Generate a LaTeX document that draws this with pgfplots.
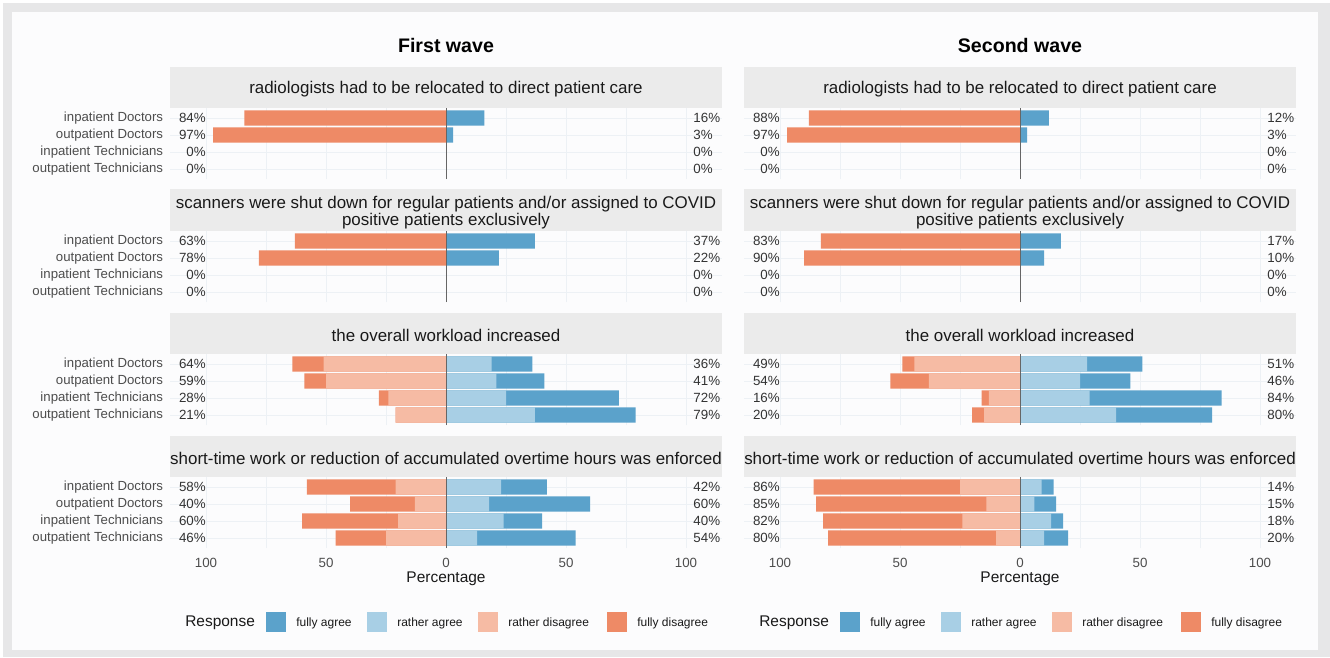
\documentclass[border=0pt]{standalone}
\usepackage{fontspec}
\setmainfont{Liberation Sans}
\usepackage{pgfplots}
\pgfplotsset{compat=1.18}
\usepackage{pgfplotstable}

\definecolor{fa}{HTML}{5BA2CB}
\definecolor{ra}{HTML}{A8CFE5}
\definecolor{rd}{HTML}{F6BBA4}
\definecolor{fd}{HTML}{EE8A66}
\definecolor{stripc}{HTML}{EBEBEB}
\definecolor{framec}{HTML}{E7E7E8}
\definecolor{pane}{HTML}{FCFCFD}
\definecolor{rowlab}{HTML}{4D4D4D}
\definecolor{pctc}{HTML}{333333}
\definecolor{gridc}{HTML}{EDF1F5}
\definecolor{zeroc}{HTML}{666666}

% columns: y rd (rather disagree) fd (fully disagree) ra (rather agree) fa (fully agree)
% y: 4 = inpatient Doctors, 3 = outpatient Doctors, 2 = inpatient Technicians, 1 = outpatient Technicians
\pgfplotstableread{
y rd fd ra fa
4 0 84 0 16
3 0 97 0 3
2 0 0 0 0
1 0 0 0 0
}\tAa
\pgfplotstableread{
y rd fd ra fa
4 0 63 0 37
3 0 78 0 22
2 0 0 0 0
1 0 0 0 0
}\tAb
\pgfplotstableread{
y rd fd ra fa
4 51 13 19 17
3 50 9 21 20
2 24 4 25 47
1 21 0 37 42
}\tAc
\pgfplotstableread{
y rd fd ra fa
4 21 37 23 19
3 13 27 18 42
2 20 40 24 16
1 25 21 13 41
}\tAd
\pgfplotstableread{
y rd fd ra fa
4 0 88 0 12
3 0 97 0 3
2 0 0 0 0
1 0 0 0 0
}\tBa
\pgfplotstableread{
y rd fd ra fa
4 0 83 0 17
3 0 90 0 10
2 0 0 0 0
1 0 0 0 0
}\tBb
\pgfplotstableread{
y rd fd ra fa
4 44 5 28 23
3 38 16 25 21
2 13 3 29 55
1 15 5 40 40
}\tBc
\pgfplotstableread{
y rd fd ra fa
4 25 61 9 5
3 14 71 6 9
2 24 58 13 5
1 10 70 10 10
}\tBd

\tikzset{pct/.style={font=\fontsize{10}{12}\selectfont, text=pctc, inner sep=0pt}}

\pgfplotsset{
  facet/.style={
    scale only axis, width=414pt, height=53.55pt,
    anchor=south west, clip=false,
    xmin=-115, xmax=115, ymin=0.4, ymax=4.6,
    xbar, bar width=0.9, bar shift=0pt,
    axis line style={draw=none}, tick style={draw=none},
    ytick={1,2,3,4},
    yticklabels={},
    yticklabel style={font=\fontsize{9.9}{11}\selectfont, text=rowlab, inner sep=0pt, xshift=-0.75pt},
    xtick={-100,-50,0,50,100},
    minor xtick={-75,-25,25,75},
    xticklabels={},
    xmajorgrids, xminorgrids, ymajorgrids,
    major grid style={gridc, line width=0.5pt},
    minor grid style={gridc, line width=0.4pt},
    /pgf/number format/assume math mode=true,
  },
  rows/.style={yticklabels={outpatient Technicians, inpatient Technicians, outpatient Doctors, inpatient Doctors}},
  bottom/.style={xticklabels={100,50,0,50,100},
    xticklabel style={font=\fontsize{10}{12}\selectfont, text=rowlab, inner sep=0pt, yshift=-7.5pt}},
}

\newcommand{\bars}[1]{%
  \addplot[fill=fa, draw=none] table[x expr=\thisrow{ra}+\thisrow{fa}, y=y] {#1};
  \addplot[fill=ra, draw=none] table[x=ra, y=y] {#1};
  \addplot[fill=fd, draw=none] table[x expr=-\thisrow{rd}-\thisrow{fd}, y=y] {#1};
  \addplot[fill=rd, draw=none] table[x expr=-\thisrow{rd}, y=y] {#1};
  \draw[zeroc, line width=0.75pt] (axis cs:0,0.4) -- (axis cs:0,4.6);
}
\newcommand{\pl}[3]{%
  \node[pct, anchor=east] at (axis cs:-100,#1) {#2\%};
  \node[pct, anchor=west] at (axis cs:103,#1) {#3\%};
}

\begin{document}
\begin{tikzpicture}
\useasboundingbox (0,0) rectangle (997.5pt,492.75pt);
\begin{scope}[x=0.75pt, y=-0.75pt, yshift=492.75pt]
  \fill[white] (0,0) rectangle (1330,657);
  \fill[framec] (3,3) rectangle (1330,657);
  \fill[pane] (12,12) rectangle (1318,650);
  % strips
  \foreach \xa in {170,744}{
    \fill[stripc] (\xa,67) rectangle ++(552,40.8);
    \fill[stripc] (\xa,189) rectangle ++(552,41.8);
    \fill[stripc] (\xa,313) rectangle ++(552,40.8);
    \fill[stripc] (\xa,436) rectangle ++(552,40.8);
  }
  \foreach \xc in {446,1020}{
    \node[font=\fontsize{12.7}{12.75}\selectfont, text=black!90, inner sep=0pt] at (\xc,89.4) {radiologists had to be relocated to direct patient care};
    \node[font=\fontsize{12.7}{12.75}\selectfont, text=black!90, inner sep=0pt, align=center] at (\xc,212.5) {scanners were shut down for regular patients and/or assigned to COVID\\positive patients exclusively};
    \node[font=\fontsize{12.7}{12.75}\selectfont, text=black!90, inner sep=0pt] at (\xc,335.4) {the overall workload increased};
    \node[font=\fontsize{12.7}{12.75}\selectfont, text=black!90, inner sep=0pt] at (\xc,458.4) {short-time work or reduction of accumulated overtime hours was enforced};
    \node[font=\fontsize{11.6}{13}\selectfont, text=black!90, inner sep=0pt] at (\xc,579) {Percentage};
  }
  \node[font=\bfseries\fontsize{14.7}{16}\selectfont, inner sep=0pt] at (446,45.5) {First wave};
  \node[font=\bfseries\fontsize{14.7}{16}\selectfont, inner sep=0pt] at (1020,45.5) {Second wave};
  % legends
  \foreach \dx in {0,574}{
    \begin{scope}[xshift=\dx*0.75pt]
      \node[font=\fontsize{11.6}{13}\selectfont, text=black!90, anchor=west, inner sep=0pt] at (185,623) {Response};
      \fill[fa] (266,612) rectangle (286,632);
      \fill[ra] (367,612) rectangle (387,632);
      \fill[rd] (478,612) rectangle (498,632);
      \fill[fd] (607,612) rectangle (627,632);
      \node[font=\fontsize{9}{10}\selectfont, text=black!90, anchor=west, inner sep=0pt] at (296,623) {fully agree};
      \node[font=\fontsize{9}{10}\selectfont, text=black!90, anchor=west, inner sep=0pt] at (397,623) {rather agree};
      \node[font=\fontsize{9}{10}\selectfont, text=black!90, anchor=west, inner sep=0pt] at (508,623) {rather disagree};
      \node[font=\fontsize{9}{10}\selectfont, text=black!90, anchor=west, inner sep=0pt] at (637,623) {fully disagree};
    \end{scope}
  }
\end{scope}

% ---------- First wave ----------
\begin{axis}[facet, rows, at={(127.5pt,358.35pt)}]
\bars{\tAa}
\pl{4}{84}{16}\pl{3}{97}{3}\pl{2}{0}{0}\pl{1}{0}{0}
\end{axis}
\begin{axis}[facet, rows, at={(127.5pt,266.1pt)}]
\bars{\tAb}
\pl{4}{63}{37}\pl{3}{78}{22}\pl{2}{0}{0}\pl{1}{0}{0}
\end{axis}
\begin{axis}[facet, rows, at={(127.5pt,173.85pt)}]
\bars{\tAc}
\pl{4}{64}{36}\pl{3}{59}{41}\pl{2}{28}{72}\pl{1}{21}{79}
\end{axis}
\begin{axis}[facet, rows, bottom, at={(127.5pt,81.6pt)}]
\bars{\tAd}
\pl{4}{58}{42}\pl{3}{40}{60}\pl{2}{60}{40}\pl{1}{46}{54}
\end{axis}

% ---------- Second wave ----------
\begin{axis}[facet, at={(558pt,358.35pt)}]
\bars{\tBa}
\pl{4}{88}{12}\pl{3}{97}{3}\pl{2}{0}{0}\pl{1}{0}{0}
\end{axis}
\begin{axis}[facet, at={(558pt,266.1pt)}]
\bars{\tBb}
\pl{4}{83}{17}\pl{3}{90}{10}\pl{2}{0}{0}\pl{1}{0}{0}
\end{axis}
\begin{axis}[facet, at={(558pt,173.85pt)}]
\bars{\tBc}
\pl{4}{49}{51}\pl{3}{54}{46}\pl{2}{16}{84}\pl{1}{20}{80}
\end{axis}
\begin{axis}[facet, bottom, at={(558pt,81.6pt)}]
\bars{\tBd}
\pl{4}{86}{14}\pl{3}{85}{15}\pl{2}{82}{18}\pl{1}{80}{20}
\end{axis}
\end{tikzpicture}
\end{document}
